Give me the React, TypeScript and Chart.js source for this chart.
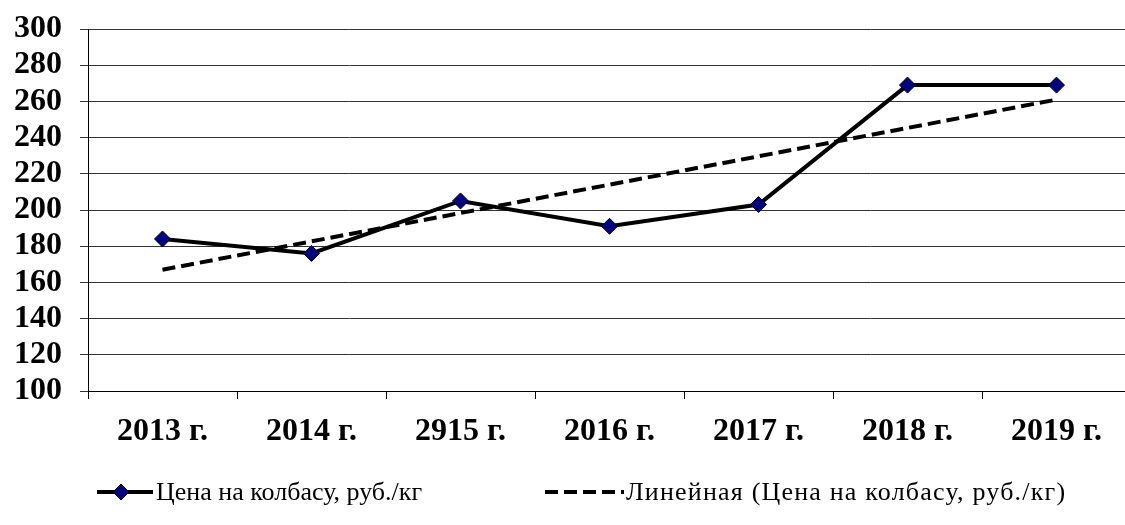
import React, { useEffect, useRef } from "react";
import { Chart, registerables } from "chart.js";

Chart.register(...registerables);

const categories = ["2013 г.", "2014 г.", "2915 г.", "2016 г.", "2017 г.", "2018 г.", "2019 г."];
const priceValues = [184, 176, 205, 191, 203, 269, 269];
// linear trend line endpoints
const trendValues = [167, null, null, null, null, null, 261];
const yTicks = [100, 120, 140, 160, 180, 200, 220, 240, 260, 280, 300];
const seriesName = "Цена на колбасу, руб./кг";
const trendName = "Линейная (Цена на колбасу, руб./кг)";

const FONT = "'Liberation Serif', 'Times New Roman', serif";

const legendPlugin = {
  id: "customLegend",
  afterDraw(chart: any) {
    const ctx = chart.ctx as any;
    const y = 492;
    ctx.save();
    ctx.strokeStyle = "#000";
    ctx.lineWidth = 4;
    ctx.setLineDash([]);
    ctx.beginPath();
    ctx.moveTo(97, y);
    ctx.lineTo(153, y);
    ctx.stroke();
    ctx.beginPath();
    const cx = 121, r = 8;
    ctx.moveTo(cx - r, y);
    ctx.lineTo(cx, y - r);
    ctx.lineTo(cx + r, y);
    ctx.lineTo(cx, y + r);
    ctx.closePath();
    ctx.fillStyle = "#000080";
    ctx.fill();
    ctx.lineWidth = 1;
    ctx.stroke();
    ctx.font = `26px ${FONT}`;
    ctx.fillStyle = "#000";
    ctx.textBaseline = "middle";
    ctx.textAlign = "left";
    ctx.fillText(seriesName, 156, y + 1);
    ctx.lineWidth = 4;
    ctx.setLineDash([13, 6]);
    ctx.beginPath();
    ctx.moveTo(545, y);
    ctx.lineTo(624, y);
    ctx.stroke();
    ctx.setLineDash([]);
    ctx.letterSpacing = "1.2px";
    ctx.fillText(trendName, 626, y + 1);
    ctx.restore();
  },
};

export default function App() {
  const ref = useRef<HTMLCanvasElement | null>(null);
  useEffect(() => {
    document.body.style.margin = "0";
    document.body.style.overflow = "hidden";
    const canvas = ref.current!;
    const chart = new Chart(canvas, {
      type: "line",
      data: {
        labels: categories,
        datasets: [
          {
            label: seriesName,
            data: priceValues,
            borderColor: "#000",
            borderWidth: 4,
            pointStyle: "rectRot",
            pointRadius: 8,
            pointBackgroundColor: "#000080",
            pointBorderColor: "#000",
            pointBorderWidth: 1,
            tension: 0,
            order: 0,
          },
          {
            label: trendName,
            data: trendValues,
            borderColor: "#000",
            borderWidth: 4,
            borderDash: [13, 6],
            pointRadius: 0,
            spanGaps: true,
            tension: 0,
            order: 1,
          },
        ],
      },
      options: {
        animation: false,
        responsive: false,
        maintainAspectRatio: false,
        layout: { autoPadding: false, padding: { top: 29, left: 0, right: 0, bottom: 0 } },
        plugins: { legend: { display: false }, tooltip: { enabled: false } },
        scales: {
          x: {
            type: "category",
            offset: true,
            grid: {
              offset: true,
              drawOnChartArea: false,
              drawTicks: true,
              tickLength: 8,
              color: "#000",
            },
            border: { color: "#000", width: 1 },
            ticks: {
              color: "#000",
              font: { family: FONT, size: 32, weight: "bold" },
              padding: 14,
              maxRotation: 0,
              autoSkip: false,
            },
            afterFit(scale: any) {
              scale.height = 134;
              scale.paddingLeft = 0;
              scale.paddingRight = 0;
            },
          },
          y: {
            min: 100,
            max: 300,
            afterBuildTicks(scale: any) {
              scale.ticks = yTicks.map((v) => ({ value: v }));
            },
            grid: {
              color: "#333",
              lineWidth: 1,
              tickLength: 8,
            },
            border: { color: "#000", width: 1 },
            ticks: {
              color: "#000",
              font: { family: FONT, size: 32, weight: "bold" },
              padding: 18,
              autoSkip: false,
            },
            afterFit(scale: any) {
              scale.width = 88;
              scale.paddingTop = 0;
              scale.paddingBottom = 0;
            },
          },
        },
      },
      plugins: [legendPlugin],
    });
    return () => chart.destroy();
  }, []);
  return (
    <div style={{ position: "fixed", left: 0, top: 0, width: 1125, height: 525, overflow: "hidden", background: "#fff" }}>
      <canvas ref={ref} width={1131} height={525} style={{ display: "block" }} />
    </div>
  );
}
